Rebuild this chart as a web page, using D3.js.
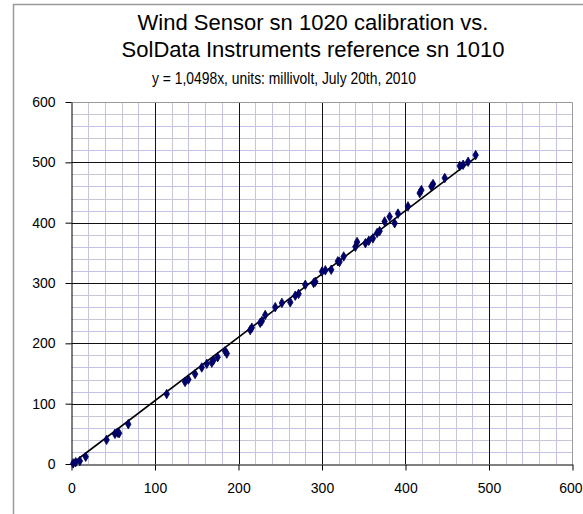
<!DOCTYPE html>
<html>
<head>
<meta charset="utf-8">
<script src="https://cdn.jsdelivr.net/npm/d3@7.9.0/dist/d3.min.js"></script>
<style>
  body { margin: 0; background: #fff; }
  svg { display: block; font-family: "Liberation Sans", Arial, sans-serif; }
</style>
</head>
<body>
<svg id="chart" width="583" height="514"></svg>
<script>
// reference sensor (x) vs. calibrated sensor (y), millivolt
const refMv = [2, 5, 10, 17, 42, 52, 55, 57, 68, 114, 136, 140, 148, 156, 162, 168, 170, 175, 184, 186,
  214, 216, 226, 228, 232, 244, 252, 262, 268, 272, 280, 290, 292, 300, 304, 311, 319, 321, 326, 340,
  342, 352, 356, 361, 366, 369, 375, 381, 387, 391, 403, 417, 419, 431, 433, 447, 465, 469, 475, 484];
const sensorMv = [1, 3, 5, 12, 40, 50, 52, 51, 66, 116, 136, 140, 149, 160, 166, 168, 172, 177, 187, 183,
  222, 226, 234, 237, 247, 260, 267, 268, 279, 282, 297, 300, 302, 319, 321, 322, 336, 335, 344, 360,
  368, 366, 370, 374, 383, 386, 402, 410, 399, 415, 427, 449, 454, 460, 464, 474, 494, 496, 501, 512];
const slope = 1.0498;
const trendEnd = 485;
const xTicks = [0, 100, 200, 300, 400, 500, 600];
const yTicks = [0, 100, 200, 300, 400, 500, 600];

const titleLines = ["Wind Sensor sn 1020 calibration vs.", "SolData Instruments reference sn 1010"];
const subtitle = "y = 1,0498x, units: millivolt, July 20th, 2010";

const svg = d3.select('#chart');

// outer chart frame
svg.append('rect')
  .attr('x', 13.5).attr('y', 4.5)
  .attr('width', 620).attr('height', 560)
  .attr('fill', '#fff')
  .attr('stroke', '#9a9a9a')
  .attr('stroke-width', 1.5);

const x = d3.scaleLinear().domain([0, 600]).range([71.5, 572.5]);
const y = d3.scaleLinear().domain([0, 600]).range([464, 102]);

// minor grid every 20
const minor = d3.range(20, 600, 20).filter(v => v % 100 !== 0);
const grid = svg.append('g');
grid.selectAll('.vmin').data(minor).join('line')
  .attr('x1', d => Math.round(x(d)) + 0.5).attr('x2', d => Math.round(x(d)) + 0.5)
  .attr('y1', y(600)).attr('y2', y(0))
  .attr('stroke', (d, i) => i % 2 ? '#c2c2e6' : '#c6c6d4');
grid.selectAll('.hmin').data(minor).join('line')
  .attr('y1', d => Math.round(y(d)) + 0.5).attr('y2', d => Math.round(y(d)) + 0.5)
  .attr('x1', x(0)).attr('x2', x(600))
  .attr('stroke', (d, i) => i % 2 ? '#c6c6d4' : '#c2c2e6');

// major grid every 100
grid.selectAll('.vmaj').data(xTicks.slice(1, -1)).join('line')
  .attr('x1', d => Math.round(x(d)) + 0.5).attr('x2', d => Math.round(x(d)) + 0.5)
  .attr('y1', y(600)).attr('y2', y(0))
  .attr('stroke', '#111');
grid.selectAll('.hmaj').data(yTicks.slice(1, -1)).join('line')
  .attr('y1', d => Math.round(y(d)) + 0.5).attr('y2', d => Math.round(y(d)) + 0.5)
  .attr('x1', x(0)).attr('x2', x(600))
  .attr('stroke', '#111');

// plot border top / right
svg.append('path')
  .attr('d', `M${x(0)},${y(600) + 0.5}H${x(600)}V${y(0)}`)
  .attr('fill', 'none')
  .attr('stroke', '#9a9a9a');

// axes
const xAxis = svg.append('g')
  .attr('transform', `translate(0,${y(0) + 0.5})`)
  .call(d3.axisBottom(x).tickValues(xTicks).tickSize(6).tickSizeOuter(0).tickPadding(13));
const yAxis = svg.append('g')
  .attr('transform', `translate(${x(0)},0)`)
  .call(d3.axisLeft(y).tickValues(yTicks).tickSize(6).tickSizeOuter(0).tickPadding(10));

[xAxis, yAxis].forEach(a => {
  a.selectAll('path, line').attr('stroke', '#000');
  a.selectAll('text').attr('font-size', 14).attr('fill', '#000')
    .attr('font-family', '"Liberation Sans", Arial, sans-serif');
});
// last x label sits against the right edge, like the original
xAxis.selectAll('.tick').filter(d => d === 600).select('text')
  .attr('text-anchor', 'end').attr('x', 582 - x(600));

// trend line
svg.append('line')
  .attr('x1', x(0)).attr('y1', y(0))
  .attr('x2', x(trendEnd)).attr('y2', y(trendEnd * slope))
  .attr('stroke', '#000')
  .attr('stroke-width', 1.6);

// data markers
const sym = d3.symbol().type(d3.symbolDiamond).size(26);
svg.append('g').selectAll('path').data(refMv).join('path')
  .attr('transform', (d, i) => `translate(${x(d)},${y(sensorMv[i])})`)
  .attr('d', sym)
  .attr('fill', '#00006e')
  .attr('stroke', '#000050')
  .attr('stroke-width', 0.8);

// titles
svg.selectAll('.title').data(titleLines).join('text')
  .attr('x', 313)
  .attr('y', (d, i) => 30 + i * 27)
  .attr('text-anchor', 'middle')
  .attr('font-size', 22)
  .attr('fill', '#000')
  .text(d => d);

svg.append('text')
  .attr('x', 284).attr('y', 84)
  .attr('text-anchor', 'middle')
  .attr('font-size', 16.5)
  .attr('textLength', 264)
  .attr('lengthAdjust', 'spacingAndGlyphs')
  .attr('fill', '#000')
  .text(subtitle);
</script>
</body>
</html>
